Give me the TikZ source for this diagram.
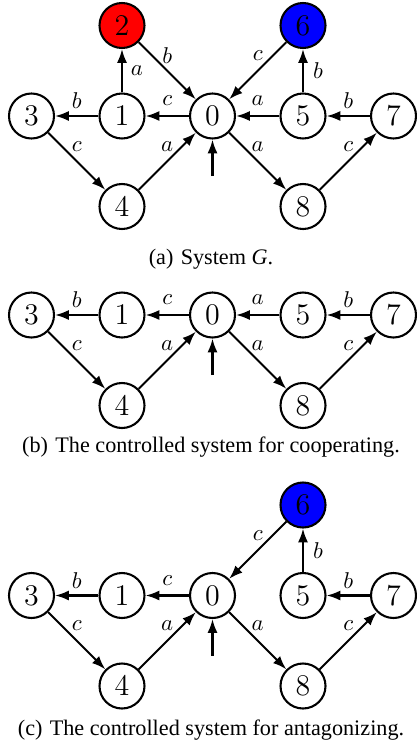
\documentclass[tikz,border=0pt]{standalone}
\usepackage{fontspec}
\setmainfont{Liberation Serif}
\usetikzlibrary{arrows.meta}
\begin{document}
\begin{tikzpicture}[x=0.48pt,y=-0.48pt,
 st/.style={circle,draw,line width=1pt,minimum size=21.6pt,inner sep=0pt,font=\fontsize{14}{16}\selectfont},
 tr/.style={-{Latex[length=6.6pt,width=4.8pt]},line width=1pt},
 lab/.style={font=\fontsize{11}{13}\selectfont,inner sep=0pt,anchor=center},
 labu/.style={lab,yshift=7.2pt},
 labr/.style={lab,xshift=7.2pt},
 captext/.style={anchor=base,font=\fontsize{10.65}{12}\selectfont}]
\useasboundingbox (0,0) rectangle (417,751);
% ---------- (a) ----------
\node[st,fill=red]  (a2) at (122,25.5) {$2$};
\node[st,fill=blue] (a6) at (303,25.5) {$6$};
\node[st] (a3) at (31.5,116) {$3$};
\node[st] (a1) at (122,116) {$1$};
\node[st] (a0) at (212.5,116) {$0$};
\node[st] (a5) at (303,116) {$5$};
\node[st] (a7) at (393.5,116) {$7$};
\node[st] (a4) at (122,206.5) {$4$};
\node[st] (a8) at (303,206.5) {$8$};
\coordinate (ai) at (212.5,176);
\draw[tr] (a1) -- node[labr]{$a$} (a2);
\draw[tr] (a2) -- node[labu]{$b$} (a0);
\draw[tr] (a0) -- node[labu]{$c$} (a1);
\draw[tr] (a1) -- node[labu]{$b$} (a3);
\draw[tr] (a3) -- node[labu]{$c$} (a4);
\draw[tr] (a4) -- node[labu]{$a$} (a0);
\draw[tr] (a0) -- node[labu]{$a$} (a8);
\draw[tr] (a8) -- node[labu]{$c$} (a7);
\draw[tr] (a7) -- node[labu]{$b$} (a5);
\draw[tr] (a5) -- node[labu]{$a$} (a0);
\draw[tr] (a5) -- node[labr]{$b$} (a6);
\draw[tr] (a6) -- node[labu]{$c$} (a0);
\draw[tr] (ai) -- (a0);
\node[captext] (capa) at (211,264) {(a)\hspace{0.33em}System \textit{G}.};
% ---------- (b) ----------
\node[st] (b3) at (31.5,315) {$3$};
\node[st] (b1) at (122,315) {$1$};
\node[st] (b0) at (212.5,315) {$0$};
\node[st] (b5) at (303,315) {$5$};
\node[st] (b7) at (393.5,315) {$7$};
\node[st] (b4) at (122,405.5) {$4$};
\node[st] (b8) at (303,405.5) {$8$};
\coordinate (bi) at (212.5,375);
\draw[tr] (b0) -- node[labu]{$c$} (b1);
\draw[tr] (b1) -- node[labu]{$b$} (b3);
\draw[tr] (b3) -- node[labu]{$c$} (b4);
\draw[tr] (b4) -- node[labu]{$a$} (b0);
\draw[tr] (b0) -- node[labu]{$a$} (b8);
\draw[tr] (b8) -- node[labu]{$c$} (b7);
\draw[tr] (b7) -- node[labu]{$b$} (b5);
\draw[tr] (b5) -- node[labu]{$a$} (b0);
\draw[tr] (bi) -- (b0);
\node[captext] (capb) at (211,452) {(b)\hspace{0.33em}The controlled system for cooperating.};
% ---------- (c) ----------
\node[st,fill=blue] (c6) at (303,505) {$6$};
\node[st] (c3) at (31.5,595.5) {$3$};
\node[st] (c1) at (122,595.5) {$1$};
\node[st] (c0) at (212.5,595.5) {$0$};
\node[st] (c5) at (303,595.5) {$5$};
\node[st] (c7) at (393.5,595.5) {$7$};
\node[st] (c4) at (122,686) {$4$};
\node[st] (c8) at (303,686) {$8$};
\coordinate (ci) at (212.5,655.5);
\draw[tr] (c0) -- node[labu]{$c$} (c1);
\draw[tr] (c1) -- node[labu]{$b$} (c3);
\draw[tr] (c3) -- node[labu]{$c$} (c4);
\draw[tr] (c4) -- node[labu]{$a$} (c0);
\draw[tr] (c0) -- node[labu]{$a$} (c8);
\draw[tr] (c8) -- node[labu]{$c$} (c7);
\draw[tr] (c7) -- node[labu]{$b$} (c5);
\draw[tr] (c5) -- node[labr]{$b$} (c6);
\draw[tr] (c6) -- node[labu]{$c$} (c0);
\draw[tr] (ci) -- (c0);
\node[captext] (capc) at (211,735) {(c)\hspace{0.33em}The controlled system for antagonizing.};
\end{tikzpicture}
\end{document}
